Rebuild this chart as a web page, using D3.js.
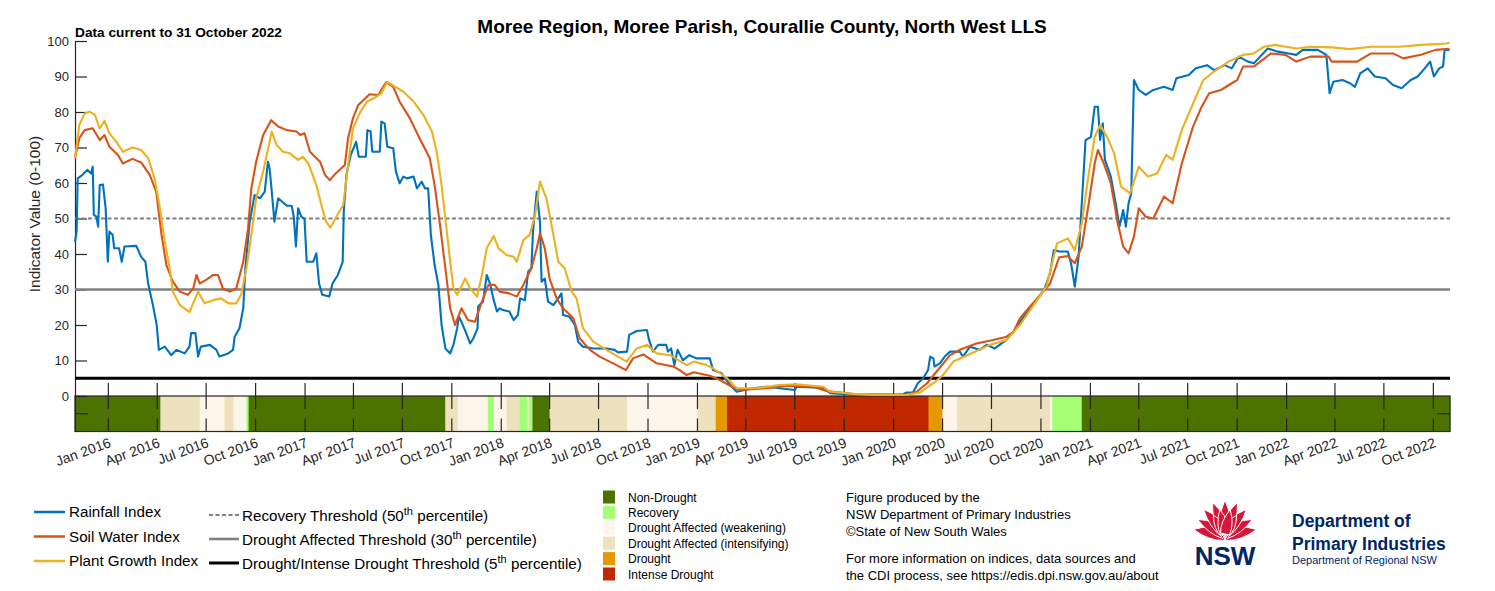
<!doctype html>
<html lang="en">
<head>
    <meta charset="UTF-8">
    <title>Moree Region - Combined Drought Indicator</title>
    <script src="https://d3js.org/d3.v7.min.js"></script>
    <style>
        body { margin: 0; background: #fff; }
        svg { display: block; font-family: "Liberation Sans", Arial, Helvetica, sans-serif; }
        .axis text { fill: #262626; font-size: 13px; }
        .axis path, .axis line { stroke: #262626; }
    </style>
</head>
<body>
<div id="chart"></div>
<script>
    // indices, [date, value]
    const rainfallIndex = [
        ["2015-10-31",43.5],["2015-11-03",46.3],["2015-11-05",61.3],["2015-11-14",62.3],["2015-11-23",63.7],["2015-11-30",62.7],
        ["2015-12-03",64.6],["2015-12-05",51],["2015-12-10",50.5],["2015-12-13",47.7],["2015-12-16",59.4],["2015-12-22",59.6],
        ["2015-12-27",52.9],["2015-12-31",37.8],["2016-01-03",46.3],["2016-01-09",45.4],["2016-01-12",41.6],["2016-01-21",41.6],
        ["2016-01-26",37.8],["2016-01-31",42.1],["2016-02-22",42.3],["2016-03-02",39.2],["2016-03-10",37.8],["2016-03-15",31.7],
        ["2016-03-24",25.6],["2016-03-31",20],["2016-04-04",13],["2016-04-15",13.9],["2016-04-27",11.5],["2016-05-07",13],
        ["2016-05-22",12],["2016-05-31",13.9],["2016-06-03",17.7],["2016-06-11",17.7],["2016-06-16",11.1],["2016-06-21",13.9],
        ["2016-07-08",14.4],["2016-07-20",13],["2016-07-26",11.1],["2016-08-11",12],["2016-08-20",13],["2016-08-23",16.7],
        ["2016-09-01",19.1],["2016-09-08",24.7],["2016-09-12",36],["2016-09-20",49.1],["2016-09-29",56.6],["2016-10-09",55.7],
        ["2016-10-18",57.6],["2016-10-24",66],["2016-10-27",64.1],["2016-10-30",59.4],["2016-11-05",49.1],["2016-11-12",55.7],
        ["2016-11-28",53.6],["2016-12-07",53.6],["2016-12-11",50.5],["2016-12-15",42.1],["2016-12-19",52.9],["2016-12-25",50.5],
        ["2016-12-31",49.9],["2017-01-04",37.8],["2017-01-16",37.8],["2017-01-22",40.2],["2017-01-27",31.7],["2017-02-02",28.5],
        ["2017-02-15",28],["2017-02-21",31.7],["2017-03-03",34.1],["2017-03-12",37.8],["2017-03-14",51.9],["2017-03-19",62.3],
        ["2017-03-27",67.9],["2017-04-06",71.6],["2017-04-11",67.4],["2017-04-24",67.4],["2017-04-27",74.9],["2017-05-03",74.5],
        ["2017-05-06",68.8],["2017-05-20",68.8],["2017-05-23",77.3],["2017-05-29",76.8],["2017-06-03",70.2],["2017-06-14",69.8],
        ["2017-06-19",63.2],["2017-06-26",59.9],["2017-07-03",61.8],["2017-07-09",61.3],["2017-07-22",61.8],["2017-07-28",58.5],
        ["2017-08-06",60.4],["2017-08-12",58.5],["2017-08-18",58.5],["2017-08-23",45.4],["2017-08-30",36.9],["2017-09-06",31.3],
        ["2017-09-12",20],["2017-09-19",13.4],["2017-09-28",12],["2017-10-04",14.4],["2017-10-11",19.1],["2017-10-14",22.3],
        ["2017-10-19",20.9],["2017-10-29",17.2],["2017-11-04",14.8],["2017-11-10",16.2],["2017-11-18",19.1],["2017-11-19",25.2],
        ["2017-11-28",26.6],["2017-12-05",34.1],["2017-12-11",31.7],["2017-12-18",27],["2017-12-24",23.8],["2017-12-29",24.7],
        ["2018-01-04",24.2],["2018-01-16",23.8],["2018-01-24",21.4],["2018-02-01",22.8],["2018-02-05",27.5],["2018-02-14",27],
        ["2018-02-20",35],["2018-02-26",36],["2018-03-01",46.3],["2018-03-08",57.6],["2018-03-14",49.1],["2018-03-17",32.2],
        ["2018-03-23",33.1],["2018-03-29",26.6],["2018-04-08",25.6],["2018-04-17",27.5],["2018-04-23",28.9],["2018-04-26",22.8],
        ["2018-05-08",22.3],["2018-05-18",20],["2018-05-24",15.3],["2018-06-02",13.9],["2018-06-21",13.4],["2018-07-16",13.4],
        ["2018-07-31",13],["2018-08-06",12.3],["2018-08-23",12.5],["2018-08-27",17.2],["2018-09-10",18.3],["2018-09-29",18.6],
        ["2018-10-03",15.8],["2018-10-10",12.5],["2018-10-20",14.4],["2018-11-04",14.4],["2018-11-07",12.5],["2018-11-13",13.4],
        ["2018-11-19",8.7],["2018-11-25",13],["2018-12-05",10.1],["2018-12-17",11.5],["2018-12-30",10.6],["2019-01-24",10.6],
        ["2019-01-30",7.3],["2019-02-15",6.4],["2019-02-21",5],["2019-03-06",2.6],["2019-03-15",1.2],["2019-04-08",2],
        ["2019-05-10",2.6],["2019-07-01",1.7],["2019-07-05",2.6],["2019-08-23",2.3],["2019-09-05",0.8],["2019-10-25",0.3],
        ["2020-01-19",0.5],["2020-01-25",1],["2020-02-06",1],["2020-02-15",3.6],["2020-02-25",5],["2020-03-05",7.3],
        ["2020-03-09",11.1],["2020-03-15",10.6],["2020-03-17",8.3],["2020-03-27",9.2],["2020-04-05",11.1],["2020-04-15",12.5],
        ["2020-05-03",12.5],["2020-05-09",11.1],["2020-05-22",13.9],["2020-06-09",13],["2020-06-22",14.4],["2020-07-07",13.4],
        ["2020-07-16",14.4],["2020-07-29",15.8],["2020-08-11",18.1],["2020-08-23",20.9],["2020-09-10",24.5],["2020-09-28",28],
        ["2020-10-08",30.3],["2020-10-18",34.6],["2020-10-25",41.1],["2020-11-04",40.7],["2020-11-20",40.7],["2020-11-26",37.4],
        ["2020-12-03",30.8],["2020-12-10",39.2],["2020-12-16",54.3],["2020-12-23",72.1],["2021-01-02",73],["2021-01-09",81.5],
        ["2021-01-15",81.5],["2021-01-19",72.1],["2021-01-24",76.8],["2021-01-28",66.5],["2021-02-08",61.8],["2021-02-17",54.3],
        ["2021-02-24",47.7],["2021-03-03",52.4],["2021-03-08",47.7],["2021-03-13",54.3],["2021-03-18",57.1],["2021-03-23",89],
        ["2021-04-01",86.2],["2021-04-14",84.8],["2021-04-28",86.2],["2021-05-18",87.1],["2021-06-03",86.2],["2021-06-10",89.5],
        ["2021-07-03",90.4],["2021-07-16",92.3],["2021-08-06",93.2],["2021-08-19",91.8],["2021-09-08",93.2],["2021-09-21",92.3],
        ["2021-10-04",95.6],["2021-10-21",94.2],["2021-11-01",93.7],["2021-11-27",97.9],["2021-12-16",97],["2022-01-05",96.5],
        ["2022-01-19",96.1],["2022-01-31",97.5],["2022-02-28",97.5],["2022-03-16",96.1],["2022-03-22",85.3],["2022-03-29",88.5],
        ["2022-04-15",89],["2022-04-29",88.1],["2022-05-08",87.1],["2022-05-18",90.9],["2022-06-01",92.3],["2022-06-14",90],
        ["2022-07-04",89.5],["2022-07-18",87.6],["2022-08-03",86.7],["2022-08-20",89],["2022-09-02",90],["2022-09-15",92.3],
        ["2022-09-25",94.2],["2022-10-02",90],["2022-10-12",92.3],["2022-10-19",92.8],["2022-10-22",97.5],["2022-10-31",97.5]
    ];

    const soilWaterIndex = [
        ["2015-10-31",67],["2015-11-08",72.6],["2015-11-18",74.9],["2015-12-03",75.4],["2015-12-16",72.1],["2015-12-25",73.5],
        ["2016-01-03",70.2],["2016-01-19",67.9],["2016-01-28",65.5],["2016-02-15",66.8],["2016-03-02",65.8],["2016-03-18",62.3],
        ["2016-03-30",57.6],["2016-04-09",45.4],["2016-04-18",36.9],["2016-04-30",32.2],["2016-05-13",29.4],["2016-05-28",28.5],
        ["2016-06-07",30.3],["2016-06-13",34.1],["2016-06-19",31.7],["2016-07-01",32.7],["2016-07-14",34.1],["2016-07-23",34.1],
        ["2016-08-01",30.3],["2016-08-14",29.4],["2016-08-26",30.3],["2016-09-08",37.8],["2016-09-17",47.2],["2016-09-23",58.5],
        ["2016-10-02",66],["2016-10-15",73.5],["2016-10-30",77.7],["2016-11-12",75.9],["2016-11-28",74.9],["2016-12-16",74.5],
        ["2016-12-23",73.5],["2016-12-31",74],["2017-01-10",68.8],["2017-01-29",66],["2017-02-07",62.3],["2017-02-16",60.8],
        ["2017-02-27",62.7],["2017-03-16",65.1],["2017-03-22",72.6],["2017-03-31",78.2],["2017-04-10",82],["2017-05-01",85],
        ["2017-05-17",84.8],["2017-06-01",88.4],["2017-06-14",87.1],["2017-06-26",82.9],["2017-07-15",78.2],["2017-08-02",72.6],
        ["2017-08-21",67],["2017-08-30",59.4],["2017-09-09",48.2],["2017-09-19",36],["2017-09-28",24.7],["2017-10-07",20],
        ["2017-10-19",24.7],["2017-10-31",21.4],["2017-11-13",20.9],["2017-11-26",26.6],["2017-12-08",31.3],["2017-12-20",31.3],
        ["2017-12-29",29.4],["2018-01-16",28.9],["2018-01-30",28],["2018-02-11",31.3],["2018-02-26",36],["2018-03-08",41.6],
        ["2018-03-14",45.8],["2018-03-23",41.6],["2018-04-01",33],["2018-04-14",27.5],["2018-04-26",24.7],["2018-05-15",21.9],
        ["2018-05-27",16.2],["2018-06-15",13],["2018-07-03",11.1],["2018-07-28",9.2],["2018-08-21",7.3],["2018-09-03",10.6],
        ["2018-09-22",11.7],["2018-10-17",9.2],["2018-11-17",8.3],["2018-11-29",7.3],["2018-12-12",5.9],["2018-12-25",6.7],
        ["2019-01-24",5.7],["2019-02-12",4.5],["2019-03-06",2.6],["2019-03-21",1.7],["2019-05-10",2.2],["2019-06-16",2.9],
        ["2019-08-04",2.6],["2019-08-29",1.4],["2019-10-25",0.5],["2020-01-25",0.3],["2020-02-13",1.2],["2020-03-03",3.6],
        ["2020-03-21",6.9],["2020-04-15",11.5],["2020-05-03",13],["2020-06-03",14.8],["2020-07-04",15.8],["2020-07-29",16.7],
        ["2020-08-11",18.1],["2020-08-23",21.9],["2020-10-18",31.7],["2020-11-04",39.1],["2020-11-20",39.4],["2020-12-03",37.4],
        ["2020-12-16",42.1],["2020-12-29",54.3],["2021-01-09",65.5],["2021-01-15",69.3],["2021-01-26",65.5],["2021-02-08",59.9],
        ["2021-02-21",48.6],["2021-03-03",42.1],["2021-03-13",40.2],["2021-03-23",44.9],["2021-04-01",52.9],["2021-04-14",50.5],
        ["2021-04-28",50],["2021-05-18",56.2],["2021-06-03",54.3],["2021-06-20",65.5],["2021-07-11",75.9],["2021-07-27",81.5],
        ["2021-08-10",85.3],["2021-09-01",86.2],["2021-09-21",88.1],["2021-10-01",89],["2021-10-12",92.8],["2021-11-01",92.8],
        ["2021-12-03",96.5],["2021-12-30",96.1],["2022-01-19",94.2],["2022-02-14",95.6],["2022-03-20",95.6],["2022-03-26",94.2],
        ["2022-05-12",94.2],["2022-06-07",96.5],["2022-07-18",96.5],["2022-08-06",95.1],["2022-09-08",96.1],["2022-10-05",97.5],
        ["2022-10-31",97.8]
    ];

    const plantGrowthIndex = [
        ["2015-10-31",67],["2015-11-08",76.3],["2015-11-18",79.6],["2015-11-27",80.1],["2015-12-07",79.2],["2015-12-16",75.4],
        ["2015-12-25",77.5],["2016-01-03",74],["2016-01-16",71.6],["2016-01-28",68.8],["2016-02-15",70],["2016-03-02",69.3],
        ["2016-03-15",67],["2016-03-27",61.3],["2016-04-05",53.8],["2016-04-15",43.5],["2016-04-24",36],["2016-04-30",29.4],
        ["2016-05-13",25.6],["2016-05-31",23.6],["2016-06-16",29.4],["2016-06-28",26.1],["2016-07-14",27],["2016-07-29",27.5],
        ["2016-08-11",26.1],["2016-08-26",26.1],["2016-09-04",28.5],["2016-09-14",36],["2016-09-23",45.4],["2016-10-02",55.7],
        ["2016-10-15",63.2],["2016-10-27",71.6],["2016-10-31",74.5],["2016-11-09",70.7],["2016-11-21",68.8],["2016-12-03",68.4],
        ["2016-12-19",66.5],["2016-12-28",67.4],["2017-01-07",65.5],["2017-01-22",59.4],["2017-02-02",52.9],["2017-02-09",49.1],
        ["2017-02-17",47.4],["2017-02-27",50.2],["2017-03-13",53.8],["2017-03-19",61.3],["2017-03-31",75.4],["2017-04-14",80.1],
        ["2017-04-26",82.9],["2017-05-14",84.3],["2017-05-23",85.3],["2017-06-03",88.5],["2017-06-18",87.1],["2017-07-03",85.7],
        ["2017-07-22",82.9],["2017-08-09",79.2],["2017-08-25",74.5],["2017-09-03",68.8],["2017-09-12",59.4],["2017-09-19",50],
        ["2017-09-28",37.8],["2017-10-04",30.3],["2017-10-11",28.5],["2017-10-26",33.1],["2017-11-04",30.3],["2017-11-17",28],
        ["2017-11-26",34.1],["2017-12-05",41.6],["2017-12-18",45.1],["2017-12-27",41.6],["2018-01-11",39.7],["2018-01-24",39.2],
        ["2018-01-30",37.8],["2018-02-11",43.9],["2018-02-23",45.4],["2018-03-05",51],["2018-03-14",60.4],["2018-03-26",55.7],
        ["2018-04-08",45.4],["2018-04-17",37.8],["2018-04-29",36],["2018-05-12",29.4],["2018-05-21",27.5],["2018-06-02",19.1],
        ["2018-06-21",15.3],["2018-07-16",13],["2018-08-22",9.7],["2018-09-10",13.4],["2018-09-29",14.4],["2018-10-17",12],
        ["2018-11-11",11.5],["2018-12-12",8.7],["2018-12-25",9.7],["2019-01-18",8.7],["2019-01-30",7.8],["2019-02-25",5],
        ["2019-03-15",2.2],["2019-04-21",2.2],["2019-06-03",3.1],["2019-07-05",3.3],["2019-08-23",2.6],["2019-09-05",1.2],
        ["2019-10-25",0.5],["2019-11-24",0.3],["2020-01-25",0.3],["2020-02-19",1],["2020-03-15",3.6],["2020-04-02",5.9],
        ["2020-04-21",9.7],["2020-05-17",11.5],["2020-06-28",14.4],["2020-07-29",15.8],["2020-08-23",20],["2020-10-11",30.8],
        ["2020-10-31",43],["2020-11-20",44.4],["2020-12-03",41.1],["2020-12-16",48.6],["2020-12-29",62.7],["2021-01-09",73],
        ["2021-01-19",76.3],["2021-02-01",73],["2021-02-14",68.4],["2021-02-27",59],["2021-03-16",57.1],["2021-04-01",64.6],
        ["2021-04-18",61.8],["2021-05-05",62.7],["2021-05-22",67.9],["2021-06-03",66.5],["2021-06-20",74.9],["2021-07-11",82.4],
        ["2021-07-30",89],["2021-08-19",91.4],["2021-09-15",94.2],["2021-10-12",96.1],["2021-11-01",96.5],["2021-11-20",98.4],
        ["2021-12-10",98.9],["2022-01-19",97.9],["2022-02-14",98.4],["2022-03-26",98.2],["2022-04-29",97.7],["2022-06-07",98.4],
        ["2022-07-30",98.4],["2022-09-08",98.9],["2022-10-25",99.3],["2022-10-31",99.5]
    ];

    // drought phase band: [start date, phase], each runs until the next start
    const droughtPhases = [
        ["2015-10-31","Non-Drought"],["2016-04-07","Drought Affected (intensifying)"],["2016-06-19","Drought Affected (weakening)"],
        ["2016-08-04","Drought Affected (intensifying)"],["2016-08-21","Drought Affected (weakening)"],["2016-09-14","Recovery"],
        ["2016-09-18","Non-Drought"],["2017-09-19","Drought Affected (intensifying)"],["2017-10-12","Drought Affected (weakening)"],
        ["2017-12-07","Recovery"],["2017-12-18","Drought Affected (weakening)"],["2018-01-11","Drought Affected (intensifying)"],
        ["2018-02-04","Recovery"],["2018-02-19","Drought Affected (weakening)"],["2018-02-21","Recovery"],
        ["2018-02-28","Non-Drought"],["2018-04-01","Drought Affected (intensifying)"],["2018-08-23","Drought Affected (weakening)"],
        ["2019-01-01","Drought Affected (intensifying)"],["2019-02-04","Drought"],["2019-02-25","Intense Drought"],
        ["2020-03-06","Drought"],["2020-04-01","Drought Affected (weakening)"],["2020-04-28","Drought Affected (intensifying)"],
        ["2020-10-18","Drought Affected (weakening)"],["2020-10-22","Recovery"],["2020-12-16","Non-Drought"]
    ];
    const periodStart = "2015-10-31";
    const periodEnd = "2022-11-01";

    const phaseNames = ["Non-Drought", "Recovery", "Drought Affected (weakening)", "Drought Affected (intensifying)", "Drought", "Intense Drought"];
    const phaseColors = ["#4c7300", "#a3ff73", "#fdf5ea", "#ede1be", "#e69800", "#c02800"];

    const seriesNames = ["Rainfall Index", "Soil Water Index", "Plant Growth Index"];
    const seriesColors = ["#0072bd", "#d95319", "#edb120"];

    const thresholdValues = [50, 30, 5];
    const yTickValues = [0, 10, 20, 30, 40, 50, 60, 70, 80, 90, 100];

    const parse = d3.timeParse("%Y-%m-%d");
    const W = 1495, H = 591;

    const svg = d3.select("#chart").append("svg")
        .attr("width", W).attr("height", H);

    const x = d3.scaleTime().domain([parse(periodStart), parse(periodEnd)]).range([75, 1450]);
    const y = d3.scaleLinear().domain([-10, 100]).range([431.5, 41]);
    const phaseColor = d3.scaleOrdinal().domain(phaseNames).range(phaseColors);

    // titles
    svg.append("text").attr("x", 762).attr("y", 33).attr("text-anchor", "middle")
        .attr("font-size", 19).attr("font-weight", "bold").text("Moree Region, Moree Parish, Courallie County, North West LLS");
    svg.append("text").attr("x", 75).attr("y", 37)
        .attr("font-size", 13.7).attr("font-weight", "bold").text("Data current to 31 October 2022");

    svg.append("text")
        .attr("transform", "translate(40,214) rotate(-90)")
        .attr("text-anchor", "middle").attr("font-size", 15.5).attr("fill", "#262626")
        .text("Indicator Value (0-100)");

    // drought phase band
    const phases = droughtPhases.map((d, i) => ({
        start: parse(d[0]),
        end: parse(i < droughtPhases.length - 1 ? droughtPhases[i + 1][0] : periodEnd),
        phase: d[1]
    }));
    svg.append("g").selectAll("rect").data(phases).enter().append("rect")
        .attr("x", d => x(d.start))
        .attr("width", d => x(d.end) - x(d.start) + 0.3)
        .attr("y", y(0)).attr("height", y(-10) - y(0))
        .attr("fill", d => phaseColor(d.phase));
    svg.append("rect")
        .attr("x", x.range()[0]).attr("width", x.range()[1] - x.range()[0])
        .attr("y", y(0)).attr("height", y(-10) - y(0))
        .attr("fill", "none").attr("stroke", "#262626").attr("stroke-width", 1.2);

    // x ticks and labels
    const quarterTicks = d3.timeMonth.every(3).range(parse("2016-01-01"), parse("2022-10-02"));
    const tickG = svg.append("g").attr("stroke", "#262626").attr("stroke-width", 1.2);
    quarterTicks.forEach(t => {
        tickG.append("line").attr("x1", x(t)).attr("x2", x(t)).attr("y1", y(0) - 13).attr("y2", y(0) + 13);
        tickG.append("line").attr("x1", x(t)).attr("x2", x(t)).attr("y1", y(-10) - 13).attr("y2", y(-10));
    });
    tickG.append("line").attr("x1", 75).attr("x2", 88).attr("y1", y(-5)).attr("y2", y(-5));
    tickG.append("line").attr("x1", 1437).attr("x2", 1450).attr("y1", y(-5)).attr("y2", y(-5));

    const xAxis = svg.append("g").attr("class", "axis")
        .attr("transform", `translate(0,${y(-10)})`)
        .call(d3.axisBottom(x).tickValues(quarterTicks).tickFormat(d3.timeFormat("%b %Y")).tickSize(0));
    xAxis.select(".domain").remove();
    xAxis.selectAll("text")
        .attr("y", null).attr("dy", null)
        .attr("text-anchor", "end")
        .style("font-size", "14px")
        .attr("transform", "translate(3,15) rotate(-20)");

    // y axis
    const yAxis = svg.append("g").attr("class", "axis")
        .attr("transform", "translate(75,0)")
        .call(d3.axisLeft(y).tickValues(yTickValues).tickSize(-12).tickSizeOuter(0).tickPadding(6));
    yAxis.select(".domain").attr("stroke-width", 1.2);
    yAxis.selectAll(".tick line").attr("stroke-width", 1.2);

    // threshold lines
    const thresholdStyles = [
        { color: "#808080", width: 2.2, dash: "4,2.5" },
        { color: "#808080", width: 2.6, dash: null },
        { color: "#000000", width: 3, dash: null }
    ];
    thresholdValues.forEach((v, i) => {
        svg.append("line")
            .attr("x1", x.range()[0]).attr("x2", x.range()[1])
            .attr("y1", y(v)).attr("y2", y(v))
            .attr("stroke", thresholdStyles[i].color)
            .attr("stroke-width", thresholdStyles[i].width)
            .attr("stroke-dasharray", thresholdStyles[i].dash);
    });

    // index lines
    const line = d3.line().x(d => x(parse(d[0]))).y(d => y(d[1]));
    [rainfallIndex, soilWaterIndex, plantGrowthIndex].forEach((series, i) => {
        svg.append("path").datum(series)
            .attr("d", line)
            .attr("fill", "none")
            .attr("stroke", seriesColors[i])
            .attr("stroke-width", 2.1)
            .attr("stroke-linejoin", "round");
    });

    // legend: indices
    const leg1 = svg.append("g").attr("font-size", 15.2).attr("fill", "#000");
    seriesNames.forEach((name, i) => {
        const ly = 512 + i * 24.5;
        leg1.append("line").attr("x1", 34).attr("x2", 65).attr("y1", ly).attr("y2", ly)
            .attr("stroke", seriesColors[i]).attr("stroke-width", 2.5);
        leg1.append("text").attr("x", 69).attr("y", ly + 5).text(name);
    });

    // legend: thresholds
    const thresholdLabels = [
        ["Recovery Threshold (50", "th", " percentile)"],
        ["Drought Affected Threshold (30", "th", " percentile)"],
        ["Drought/Intense Drought Threshold (5", "th", " percentile)"]
    ];
    thresholdLabels.forEach((parts, i) => {
        const ly = 515 + i * 24;
        leg1.append("line").attr("x1", 209).attr("x2", 239).attr("y1", ly).attr("y2", ly)
            .attr("stroke", thresholdStyles[i].color).attr("stroke-width", thresholdStyles[i].width)
            .attr("stroke-dasharray", thresholdStyles[i].dash);
        const t = leg1.append("text").attr("x", 242).attr("y", ly + 6);
        t.append("tspan").text(parts[0]);
        t.append("tspan").attr("dy", -6).attr("font-size", 11).text(parts[1]);
        t.append("tspan").attr("dy", 6).text(parts[2]);
    });

    // legend: drought phases
    const leg2 = svg.append("g").attr("font-size", 12);
    phaseNames.forEach((name, i) => {
        const ly = 497 + i * 15.4;
        leg2.append("rect").attr("x", 603).attr("y", ly - 6.5).attr("width", 12).attr("height", 13)
            .attr("fill", phaseColors[i]);
        leg2.append("text").attr("x", 628).attr("y", ly + 4.5).text(name);
    });

    // credits
    const credits = [
        ["Figure produced by the", 502],
        ["NSW Department of Primary Industries", 519],
        ["\u00A9State of New South Wales", 535.5],
        ["For more information on indices, data sources and", 563],
        ["the CDI process, see https://edis.dpi.nsw.gov.au/about", 580]
    ];
    svg.append("g").attr("font-size", 13).selectAll("text").data(credits).enter().append("text")
        .attr("x", 846).attr("y", d => d[1]).text(d => d[0]);

    // NSW DPI logo
    const logo = svg.append("g").attr("transform", "translate(1225,537)");
    function petal(angle, len, width, oy) {
        const a = angle * Math.PI / 180;
        const tx = len * Math.sin(a), ty = oy - len * Math.cos(a);
        const px = Math.cos(a) * width / 2, py = Math.sin(a) * width / 2;
        const mx = tx * 0.45, my = oy + (ty - oy) * 0.45;
        return `M${-px},${oy - py} Q${mx - px * 1.6},${my - py * 1.6} ${tx},${ty} Q${mx + px * 1.6},${my + py * 1.6} ${px},${oy + py} Z`;
    }
    const petals = [
        [-80, 32, 11, -2], [80, 32, 11, -2], [-62, 31, 10, -3], [62, 31, 10, -3],
        [-42, 32, 10, -4], [42, 32, 10, -4], [-22, 33, 10, -4], [22, 33, 10, -4], [0, 34, 10, -3],
        [-32, 22, 9, -3], [32, 22, 9, -3], [-12, 25, 9, -3], [12, 25, 9, -3]
    ];
    logo.selectAll("path").data(petals).enter().append("path")
        .attr("d", d => petal(d[0], d[1], d[2], d[3]))
        .attr("fill", "#d7153a").attr("stroke", "#fff").attr("stroke-width", 1);
    logo.append("text").attr("x", 0).attr("y", 28).attr("text-anchor", "middle")
        .attr("font-size", 26).attr("font-weight", "bold").attr("fill", "#002664").text("NSW");

    svg.append("text").attr("x", 1292).attr("y", 527).attr("font-size", 17.5).attr("font-weight", "bold")
        .attr("fill", "#002664").text("Department of");
    svg.append("text").attr("x", 1292).attr("y", 550).attr("font-size", 17.5).attr("font-weight", "bold")
        .attr("fill", "#002664").text("Primary Industries");
    svg.append("text").attr("x", 1292).attr("y", 564).attr("font-size", 11)
        .attr("fill", "#002664").text("Department of Regional NSW");
</script>
</body>
</html>
